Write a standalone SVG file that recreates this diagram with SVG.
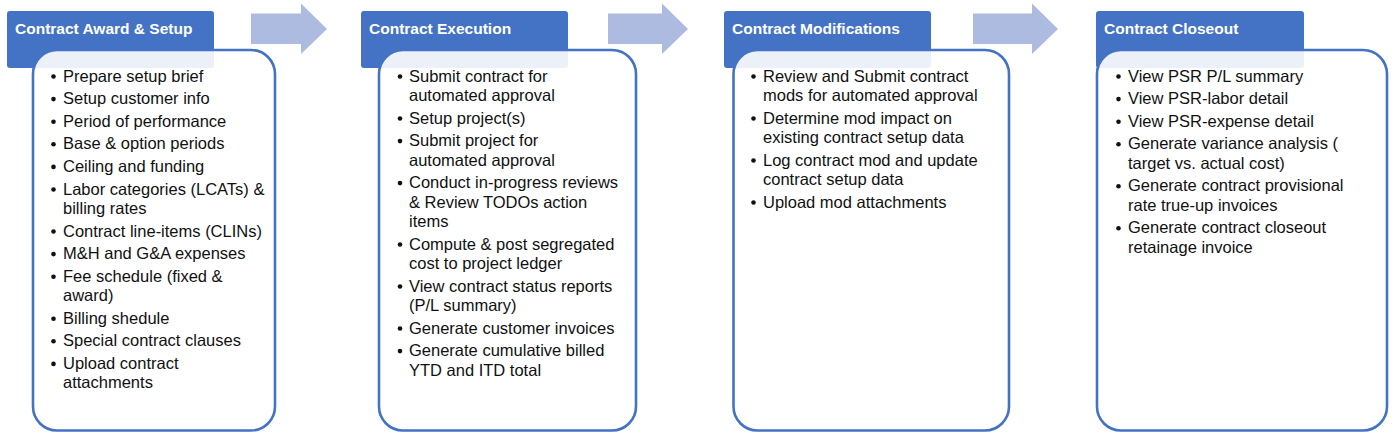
<svg xmlns="http://www.w3.org/2000/svg" width="1396" height="435" viewBox="0 0 1396 435">
<style>
.hdr{fill:#4472C4}
.box{fill:#ffffff;fill-opacity:0.9;stroke:#4472C4;stroke-width:2.6}
.ht{font-family:"Liberation Sans",Arial,sans-serif;font-weight:bold;font-size:15.5px;fill:#ffffff}
.it{font-family:"Liberation Sans",Arial,sans-serif;font-size:16.5px;fill:#111111}
.bul{fill:#111111}
.arr{fill:#AEBBE0}
</style>
<rect width="1396" height="435" fill="#ffffff"/>
<g id="connectors">
<path class="arr" d="M251,13.5 H301 V3.5 L327,29 L301,54 V44 H251 Z"/>
<path class="arr" d="M608,13.5 H662 V3.5 L688,29 L662,54 V44 H608 Z"/>
<path class="arr" d="M973,13.5 H1032 V3.5 L1058,29 L1032,54 V44 H973 Z"/>
</g>
<g id="award-setup">
<rect class="hdr" x="7" y="11" width="207" height="57" rx="3"/>
<rect class="box" x="33" y="50" width="242" height="380.5" rx="24"/>
<text class="ht" x="15" y="34">Contract Award &amp; Setup</text>
<g class="bul">
<circle cx="53.5" cy="76.5" r="2.3"/><circle cx="53.5" cy="99.1" r="2.3"/><circle cx="53.5" cy="121.7" r="2.3"/><circle cx="53.5" cy="144.3" r="2.3"/><circle cx="53.5" cy="166.9" r="2.3"/><circle cx="53.5" cy="189.5" r="2.3"/><circle cx="53.5" cy="231.5" r="2.3"/><circle cx="53.5" cy="254.1" r="2.3"/><circle cx="53.5" cy="276.7" r="2.3"/><circle cx="53.5" cy="318.7" r="2.3"/><circle cx="53.5" cy="341.3" r="2.3"/><circle cx="53.5" cy="363.9" r="2.3"/>
</g>
<text class="it" x="63" y="81.5">Prepare setup brief</text>
<text class="it" x="63" y="104.1">Setup customer info</text>
<text class="it" x="63" y="126.7">Period of performance</text>
<text class="it" x="63" y="149.3">Base &amp; option periods</text>
<text class="it" x="63" y="171.9">Ceiling and funding</text>
<text class="it" x="63" y="194.5">Labor categories (LCATs) &amp;<tspan x="63" y="213.9">billing rates</tspan></text>
<text class="it" x="63" y="236.5">Contract line-items (CLINs)</text>
<text class="it" x="63" y="259.1">M&amp;H and G&amp;A expenses</text>
<text class="it" x="63" y="281.7">Fee schedule (fixed &amp;<tspan x="63" y="301.1">award)</tspan></text>
<text class="it" x="63" y="323.7">Billing shedule</text>
<text class="it" x="63" y="346.3">Special contract clauses</text>
<text class="it" x="63" y="368.9">Upload contract<tspan x="63" y="388.3">attachments</tspan></text>
</g>
<g id="execution">
<rect class="hdr" x="361" y="11" width="207" height="57" rx="3"/>
<rect class="box" x="379" y="50" width="257" height="380.5" rx="24"/>
<text class="ht" x="369" y="34">Contract Execution</text>
<g class="bul">
<circle cx="400" cy="76.5" r="2.3"/><circle cx="400" cy="118.5" r="2.3"/><circle cx="400" cy="141.1" r="2.3"/><circle cx="400" cy="183.1" r="2.3"/><circle cx="400" cy="244.5" r="2.3"/><circle cx="400" cy="286.5" r="2.3"/><circle cx="400" cy="328.5" r="2.3"/><circle cx="400" cy="351.1" r="2.3"/>
</g>
<text class="it" x="409" y="81.5">Submit contract for<tspan x="409" y="100.9">automated approval</tspan></text>
<text class="it" x="409" y="123.5">Setup project(s)</text>
<text class="it" x="409" y="146.1">Submit project for<tspan x="409" y="165.5">automated approval</tspan></text>
<text class="it" x="409" y="188.1">Conduct in-progress reviews<tspan x="409" y="207.5">&amp; Review TODOs action</tspan><tspan x="409" y="226.9">items</tspan></text>
<text class="it" x="409" y="249.5">Compute &amp; post segregated<tspan x="409" y="268.9">cost to project ledger</tspan></text>
<text class="it" x="409" y="291.5">View contract status reports<tspan x="409" y="310.9">(P/L summary)</tspan></text>
<text class="it" x="409" y="333.5">Generate customer invoices</text>
<text class="it" x="409" y="356.1">Generate cumulative billed<tspan x="409" y="375.5">YTD and ITD total</tspan></text>
</g>
<g id="modifications">
<rect class="hdr" x="724" y="11" width="207" height="57" rx="3"/>
<rect class="box" x="733.5" y="50" width="275.5" height="380.5" rx="24"/>
<text class="ht" x="732" y="34">Contract Modifications</text>
<g class="bul">
<circle cx="753.5" cy="76.5" r="2.3"/><circle cx="753.5" cy="118.5" r="2.3"/><circle cx="753.5" cy="160.5" r="2.3"/><circle cx="753.5" cy="202.5" r="2.3"/>
</g>
<text class="it" x="763" y="81.5">Review and Submit contract<tspan x="763" y="100.9">mods for automated approval</tspan></text>
<text class="it" x="763" y="123.5">Determine mod impact on<tspan x="763" y="142.9">existing contract setup data</tspan></text>
<text class="it" x="763" y="165.5">Log contract mod and update<tspan x="763" y="184.9">contract setup data</tspan></text>
<text class="it" x="763" y="207.5">Upload mod attachments</text>
</g>
<g id="closeout">
<rect class="hdr" x="1096" y="11" width="208" height="57" rx="3"/>
<rect class="box" x="1097" y="50" width="290" height="380.5" rx="24"/>
<text class="ht" x="1104" y="34">Contract Closeout</text>
<g class="bul">
<circle cx="1118.5" cy="76.5" r="2.3"/><circle cx="1118.5" cy="99.1" r="2.3"/><circle cx="1118.5" cy="121.7" r="2.3"/><circle cx="1118.5" cy="144.3" r="2.3"/><circle cx="1118.5" cy="186.3" r="2.3"/><circle cx="1118.5" cy="228.3" r="2.3"/>
</g>
<text class="it" x="1128" y="81.5">View PSR P/L summary</text>
<text class="it" x="1128" y="104.1">View PSR-labor detail</text>
<text class="it" x="1128" y="126.7">View PSR-expense detail</text>
<text class="it" x="1128" y="149.3">Generate variance analysis (<tspan x="1128" y="168.7">target vs. actual cost)</tspan></text>
<text class="it" x="1128" y="191.3">Generate contract provisional<tspan x="1128" y="210.7">rate true-up invoices</tspan></text>
<text class="it" x="1128" y="233.3">Generate contract closeout<tspan x="1128" y="252.7">retainage invoice</tspan></text>
</g>
</svg>
